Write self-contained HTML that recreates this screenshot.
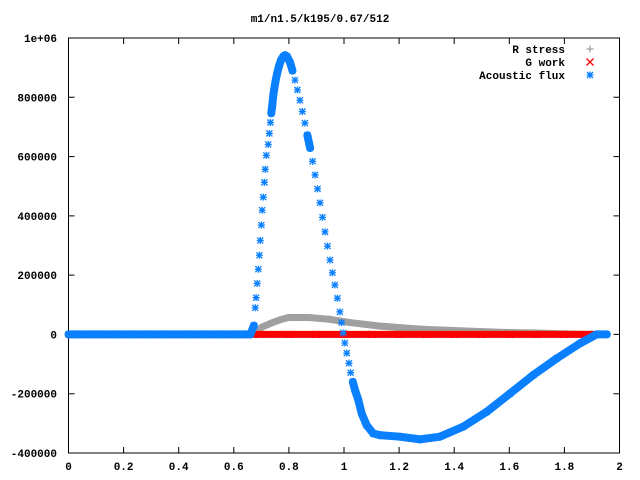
<!DOCTYPE html>
<html><head><meta charset="utf-8"><style>
html,body{margin:0;padding:0;background:#fff;}
svg{display:block;}
text{font-family:"Liberation Mono","DejaVu Sans Mono",monospace;font-size:11px;font-weight:bold;fill:#000;}
</style></head><body>
<svg id="chart" width="640" height="480" viewBox="0 0 640 480" xmlns="http://www.w3.org/2000/svg">
<text x="320" y="22" text-anchor="middle">m1/n1.5/k195/0.67/512</text>
<g id="axes"></g>
<g id="series"></g>
<g id="legend"></g>
</svg>
<script>
const xTicks = [0,0.2,0.4,0.6,0.8,1,1.2,1.4,1.6,1.8,2];
const xTickLabels = ["0","0.2","0.4","0.6","0.8","1","1.2","1.4","1.6","1.8","2"];
const yTicks = [1000000,800000,600000,400000,200000,0,-200000,-400000];
const yTickLabels = ["1e+06","800000","600000","400000","200000","0","-200000","-400000"];
const fluxX = [0,0.02,0.04,0.06,0.08,0.1,0.12,0.14,0.16,0.18,0.2,0.22,0.24,0.26,0.28,0.3,0.32,0.34,0.36,0.38,0.4,0.42,0.44,0.46,0.48,0.5,0.52,0.54,0.56,0.58,0.6,0.62,0.64,0.66,0.673,0.678,0.681,0.685,0.689,0.693,0.696,0.700,0.703,0.707,0.711,0.714,0.718,0.725,0.729,0.733,0.736,0.740,0.743,0.747,0.751,0.757,0.764,0.771,0.779,0.786,0.793,0.804,0.813,0.822,0.831,0.840,0.849,0.858,0.867,0.877,0.886,0.895,0.904,0.913,0.922,0.931,0.940,0.949,0.958,0.967,0.976,0.985,0.991,0.997,1.003,1.010,1.018,1.024,1.032,1.040,1.052,1.064,1.082,1.106,1.131,1.203,1.276,1.348,1.433,1.518,1.603,1.687,1.772,1.857,1.917,1.954];
const fluxY = [0,0,0,0,0,0,0,0,0,0,0,0,0,0,0,0,0,0,0,0,0,0,0,0,0,0,0,0,0,0,0,0,0,0,30000,90000,124000,172000,220000,267000,317000,369000,419000,463000,513000,557000,604000,641000,678000,715000,746000,776000,804000,830000,852000,880000,905000,925000,937000,942000,938000,918000,890000,858000,825000,790000,752000,713000,672000,629000,584000,538000,491000,444000,395000,346000,298000,251000,208000,167000,122000,76000,40000,5000,-29000,-63000,-97000,-129000,-160000,-188000,-221000,-266000,-306000,-334000,-340000,-345000,-354000,-345000,-311000,-261000,-199000,-137000,-81000,-30000,0,0];
const stressX = [0.673,0.681,0.703,0.735,0.770,0.799,0.872,0.949,1.021,1.131,1.276,1.432,1.577,1.700,1.800,1.900];
const stressY = [0,8000,25000,38000,50000,57000,57000,51000,40000,28000,18000,12000,7000,5000,2000,0];
const workX = [0.673,0.8,0.9,1.0,1.1,1.2,1.3,1.4,1.5,1.6,1.7,1.8,1.906];
const workY = [0,0,0,0,0,0,0,0,0,0,0,0,0];

const L=68.5,R=619.5,T=38,B=453;
const xMin=0,xMax=2,yMin=-400000,yMax=1000000;
function sx(v){return L+(v-xMin)/(xMax-xMin)*(R-L);}
function sy(v){return B-(v-yMin)/(yMax-yMin)*(B-T);}
const NS="http://www.w3.org/2000/svg";
function mk(tag,attrs,parent){const e=document.createElementNS(NS,tag);for(const k in attrs)e.setAttribute(k,attrs[k]);parent.appendChild(e);return e;}
const axes=document.getElementById('axes');
const frame=mk('rect',{x:L,y:T,width:R-L,height:B-T,fill:'none',stroke:'#000','stroke-width':1},axes);


xTicks.forEach((v,i)=>{
  const x=sx(v);
  const t=mk('path',{d:`M${x},${B}v-6M${x},${T}v6`,stroke:'#000','stroke-width':1},axes);
  
  
  const lb=mk('text',{x:x,y:470,'text-anchor':'middle'},axes);
  lb.textContent=xTickLabels[i];
  
  
});
yTicks.forEach((v,i)=>{
  const y=sy(v);
  const t=mk('path',{d:`M${L},${y}h6M${R},${y}h-6`,stroke:'#000','stroke-width':1},axes);
  
  
  const lb=mk('text',{x:57,y:y+4,'text-anchor':'end'},axes);
  lb.textContent=yTickLabels[i];
  
  
});
const series=document.getElementById('series');
function plus(x,y,c,g){return mk('path',{d:`M${x-3.5},${y}h7M${x},${y-3.5}v7`,stroke:c,'stroke-width':1.3},g);}
function cross(x,y,c,g){return mk('path',{d:`M${x-3.5},${y-3.5}l7,7M${x-3.5},${y+3.5}l7,-7`,stroke:c,'stroke-width':1.3},g);}
function star(x,y,c,g){return mk('path',{d:`M${x-3.5},${y}h7M${x},${y-3.5}v7M${x-3},${y-3}l6,6M${x-3},${y+3}l6,-6`,stroke:c,'stroke-width':1.3},g);}
function drawSeries(xs,ys,color,marker,name,w){
  const g=mk('g',{},series);
  
  
  for(let i=1;i<xs.length;i++){
    const x0=sx(xs[i-1]),y0=sy(ys[i-1]),x1=sx(xs[i]),y1=sy(ys[i]);
    const d=Math.hypot(x1-x0,y1-y0);
    if(d<9||Math.abs(x1-x0)>2.5){
      const ln=mk('line',{x1:x0,y1:y0,x2:x1,y2:y1,stroke:color,'stroke-width':w,'stroke-linecap':'round'},g);
      
      
    }
  }
  for(let i=0;i<xs.length;i++){
    const m=marker(sx(xs[i]),sy(ys[i]),color,g);
    
    
  }
}
drawSeries(stressX,stressY,'#a0a0a0',plus,'r-stress-series',7);
drawSeries(workX,workY,'#ff0000',cross,'g-work-series',7);
drawSeries(fluxX,fluxY,'#0a80ff',star,'acoustic-flux-series',8);

const legend=document.getElementById('legend');
[['R stress','#a0a0a0',plus,'legend-r-stress'],['G work','#ff0000',cross,'legend-g-work'],['Acoustic flux','#0a80ff',star,'legend-acoustic-flux']].forEach((e,i)=>{
  const y=49+i*13;
  const g=mk('g',{},legend);
  
  
  const t=mk('text',{x:565,y:y+4,'text-anchor':'end'},g);
  t.textContent=e[0];
  e[2](590,y,e[1],g);
});
</script>
</body></html>
